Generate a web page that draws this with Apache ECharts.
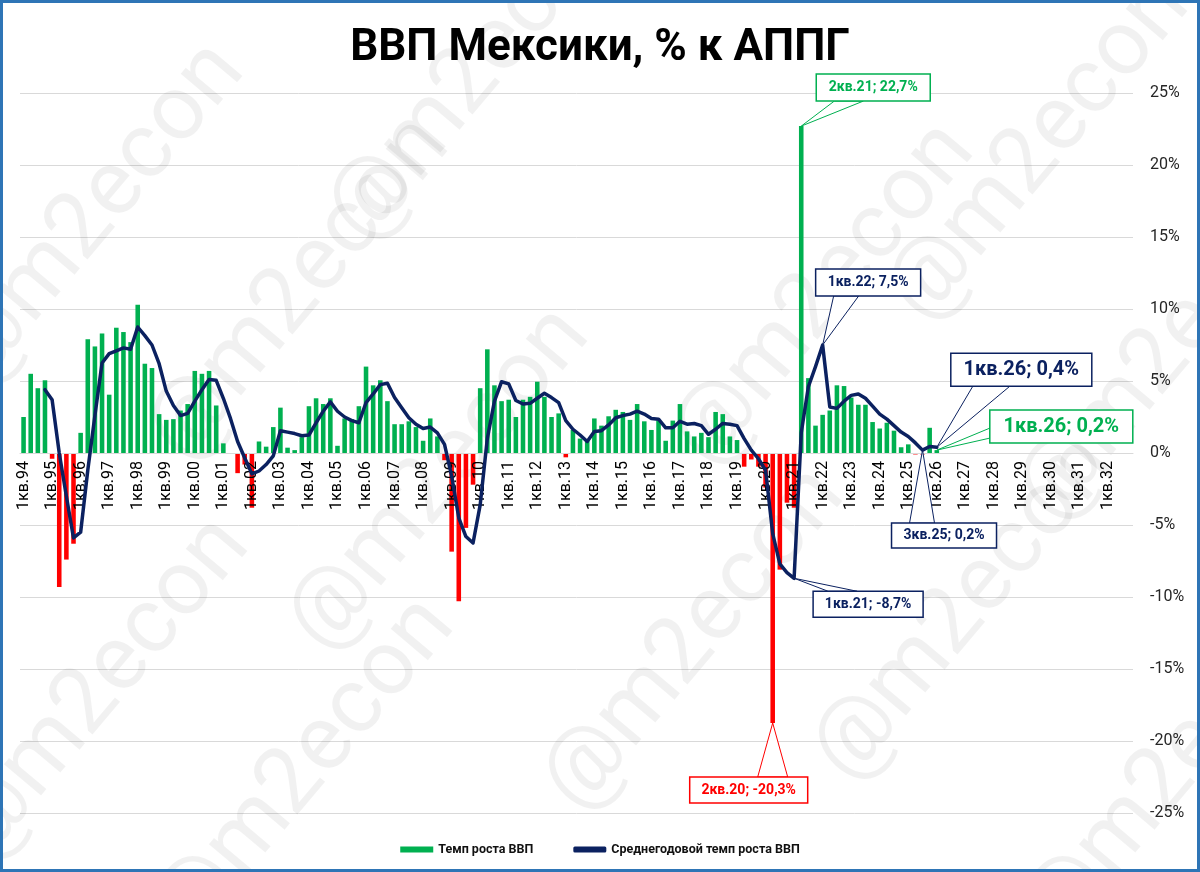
<!DOCTYPE html>
<html><head><meta charset="utf-8">
<script src="https://cdn.jsdelivr.net/npm/echarts@6/dist/echarts.min.js"></script>
<style>html,body{margin:0;padding:0;background:#fff}#c{width:1200px;height:872px}</style>
</head><body><div id="c"></div>
<script>
// ---- data ----
const years = ['94','95','96','97','98','99','00','01','02','03','04','05','06','07','08','09','10','11','12','13','14','15','16','17','18','19','20','21','22','23','24','25','26','27','28','29','30','31','32'];
const quarters = ['1кв.','2кв.','3кв.','4кв.'];
const categories = [];
years.forEach(y => quarters.forEach(q => categories.push(q + y)));

// Темп роста ВВП, % к АППГ (1кв.94 ... 1кв.26)
const gdpGrowth = [
  2.5, 5.5, 4.5, 5.05,
  -0.4, -9.3, -7.4, -6.3,
  1.4, 7.9, 7.4, 8.3,
  4.05, 8.7, 8.4, 7.7,
  10.3, 6.2, 5.9, 2.7,
  2.3, 2.35, 2.95, 3.4,
  5.7, 5.5, 5.7, 3.3,
  0.67, 0.0, -1.4, -0.8,
  -3.8, 0.8, 0.44, 1.8,
  3.15, 0.37, 0.2, 1.1,
  3.25, 3.8, 3.4, 3.8,
  0.5, 2.4, 2.35, 3.25,
  6.0, 4.7, 5.05, 3.6,
  2.0, 2.0, 2.2, 1.8,
  0.85, 2.4, 1.15, -0.5,
  -6.85, -10.3, -5.2, -2.2,
  4.5, 7.2, 4.7, 3.6,
  3.7, 2.5, 3.7, 3.9,
  4.95, 3.9, 2.5, 2.75,
  -0.3, 1.6, 1.0, 0.85,
  2.4, 1.9, 2.55, 3.0,
  2.85, 2.3, 3.4, 2.2,
  1.6, 2.25, 0.85, 2.25,
  3.4, 1.5, 1.15, 1.4,
  1.1, 2.85, 2.7, 1.15,
  0.9, -0.95, -0.45, -0.95,
  -2.4, -18.75, -8.1, -3.45,
  -3.8, 22.7, 5.2, 1.9,
  2.65, 2.95, 4.7, 4.65,
  3.85, 3.35, 3.35, 2.15,
  1.7, 2.1, 1.55, 0.4,
  0.6, -0.1, -0.1, 1.75,
  0.2
];

// Среднегодовой темп роста ВВП, %
const avgGrowth = [
  null, null, null, 4.4,
  3.7, 0.0, -3.0, -5.9,
  -5.5, -1.2, 2.6, 6.25,
  6.9, 7.1, 7.3, 7.2,
  8.75, 8.15, 7.5, 6.2,
  4.3, 3.3, 2.6, 2.75,
  3.6, 4.4, 5.1, 5.05,
  3.8, 2.4, 0.8, -0.35,
  -1.45, -1.25, -0.8, -0.2,
  1.55, 1.45, 1.35, 1.2,
  1.25, 2.1, 2.9, 3.55,
  2.9, 2.5, 2.25, 2.1,
  3.5, 4.1, 4.75, 4.85,
  3.85, 3.15, 2.45, 2.0,
  1.7, 1.8, 1.4, 0.6,
  -1.6, -4.5, -5.8, -6.25,
  -3.6, 1.0, 3.6, 4.95,
  4.8, 3.65, 3.4, 3.45,
  3.8, 4.15, 3.85, 3.5,
  2.25, 1.65, 1.25, 0.8,
  1.5, 1.55, 1.95, 2.45,
  2.6, 2.7, 2.9, 2.7,
  2.4, 2.35, 1.75, 1.75,
  2.2, 2.0, 2.05, 1.9,
  1.3, 1.65, 2.05, 2.0,
  1.9, 1.0, 0.2, -0.4,
  -1.2, -5.6, -7.7, -8.3,
  -8.7, 1.4, 4.6, 6.0,
  7.5, 3.2, 3.1, 3.6,
  4.0, 4.1, 3.8, 3.25,
  2.7, 2.35, 1.9, 1.45,
  1.15, 0.7, 0.2, 0.45,
  0.4
];

const yMin = -25, yMax = 25, yStep = 5;

const GREEN = '#00b050', RED = '#ff0000', NAVY = '#0b2160';

// callouts: series 0 = bars, 1 = line; text as in the original
const callouts = [
  {series:0, cat:'2кв.21', text:'2кв.21; 22,7%', color:GREEN, size:14, box:[15,-52,114,27], base:[[33,-25],[62,-25]]},
  {series:1, cat:'1кв.22', text:'1кв.22; 7,5%', color:NAVY, size:14, box:[-7,-76,105,27], base:[[11,-49],[36,-49]]},
  {series:1, cat:'1кв.26', text:'1кв.26; 0,4%', color:NAVY, size:20, box:[14,-94,141,33], base:[[36,-61],[73,-61]]},
  {series:0, cat:'1кв.26', text:'1кв.26; 0,2%', color:GREEN, size:20, box:[53,-40,143,33], base:[[53,-22],[53,-12]]},
  {series:1, cat:'3кв.25', text:'3кв.25; 0,2%', color:NAVY, size:14, box:[-31,73,105,25], base:[[-13,73],[12,73]]},
  {series:1, cat:'1кв.21', text:'1кв.21; -8,7%', color:NAVY, size:14, box:[19,13,110,26], base:[[34,13],[63,13]]},
  {series:0, cat:'2кв.20', text:'2кв.20; -20,3%', color:RED, size:14, box:[-83,54,118,26], base:[[-15,54],[15,54]]}
];

const watermarks = [[95,215],[300,290],[480,70],[440,480],[100,690],[305,770],[695,640],[825,295],[965,610],[1040,150],[1170,350],[1175,770]];

const FONT = 'Roboto';
const chart = echarts.init(document.getElementById('c'), null, {renderer:'canvas'});
const option = {
  animation: false,
  backgroundColor: '#fff',
  title: {text:'ВВП Мексики, % к АППГ', left:'center', top:22,
    textStyle:{fontFamily:FONT, fontSize:44, fontWeight:'bold', color:'#000'}},
  legend: {top:838, left:'center', itemWidth:33, itemHeight:6, itemGap:40,
    textStyle:{fontFamily:FONT, fontSize:12.5, fontWeight:'bold', color:'#111'},
    data:[{name:'Темп роста ВВП', icon:'rect', itemStyle:{color:GREEN}},
          {name:'Среднегодовой темп роста ВВП', icon:'roundRect', itemStyle:{color:NAVY}}]},
  grid: {left:20, right:67, top:93, bottom:59},
  xAxis: {type:'category', data:categories, boundaryGap:true, offset:-360, z:2,
    axisLine:{onZero:false, lineStyle:{color:'#d9d9d9', width:1}},
    axisTick:{show:false},
    axisLabel:{interval:3, rotate:90, fontFamily:FONT, fontSize:16, color:'#000', margin:8, padding:[6,0,0,0]}},
  yAxis: {type:'value', position:'right', min:yMin, max:yMax, interval:yStep,
    axisLabel:{formatter:'{value}%', fontFamily:FONT, fontSize:16, color:'#262626', margin:17},
    splitLine:{lineStyle:{color:'#d9d9d9', width:1}},
    axisLine:{show:false}, axisTick:{show:false}},
  series: [
    {name:'Темп роста ВВП', type:'bar', data:gdpGrowth, barWidth:'64%', z:1,
     itemStyle:{color: p => (p.value < 0 ? RED : GREEN)}},
    {name:'Среднегодовой темп роста ВВП', type:'line', data:avgGrowth, symbol:'none',
     connectNulls:false, lineStyle:{color:NAVY, width:3.5, join:'round', cap:'round'},
     itemStyle:{color:NAVY}, z:3}
  ]
};
chart.setOption(option);

function buildGraphics(){
  const els = [];
  watermarks.forEach(w => els.push({type:'text', x:w[0], y:w[1], rotation:0.87, z:0, silent:true,
    style:{text:'@m2econ', fill:'rgba(0,0,0,0.055)', font:'92px ' + FONT, align:'center', verticalAlign:'middle'}}));
  callouts.forEach(c => {
    const idx = categories.indexOf(c.cat);
    const v = (c.series === 0 ? gdpGrowth : avgGrowth)[idx];
    const p = chart.convertToPixel({gridIndex:0}, [idx, v]);
    const bx = p[0] + c.box[0], by = p[1] + c.box[1];
    els.push({type:'polygon', z:100, shape:{points:[[p[0],p[1]],[p[0]+c.base[0][0],p[1]+c.base[0][1]],[p[0]+c.base[1][0],p[1]+c.base[1][1]]]},
      style:{fill:'#fff', stroke:c.color, lineWidth:1}});
    els.push({type:'rect', z:101, shape:{x:bx, y:by, width:c.box[2], height:c.box[3]},
      style:{fill:'#fff', stroke:c.color, lineWidth:1.5}});
    els.push({type:'text', z:102, x:bx + c.box[2]/2, y:by + c.box[3]/2,
      style:{text:c.text, fill:c.color, font:'bold ' + c.size + 'px ' + FONT, align:'center', verticalAlign:'middle'}});
  });
  els.push({type:'rect', z:120, silent:true, shape:{x:1.5, y:1.5, width:1197, height:869},
    style:{fill:'none', stroke:'#2e75b6', lineWidth:3}});
  return els;
}
chart.setOption({graphic: buildGraphics()});
</script></body></html>
